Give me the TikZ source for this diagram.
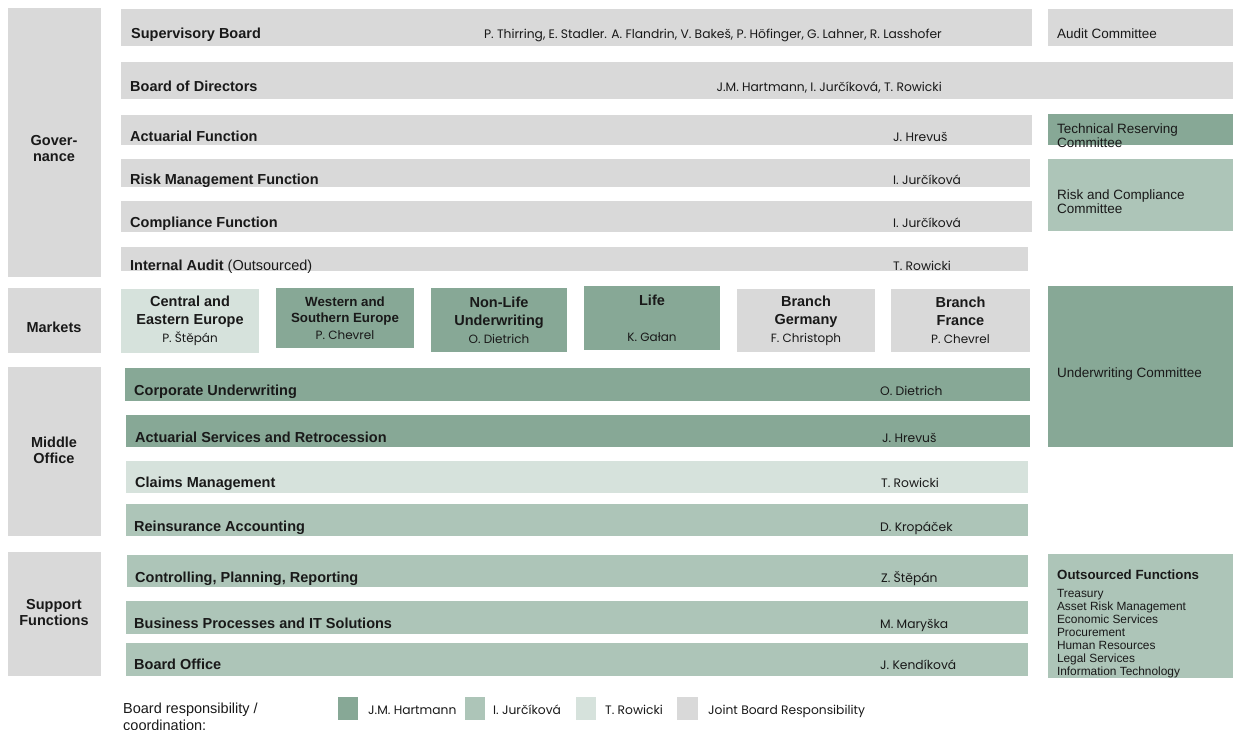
\documentclass[tikz,border=0pt]{standalone}
\usepackage{fontspec}
\setmainfont{Liberation Sans}
\newfontfamily\futura{Poppins}
\usetikzlibrary{positioning}
\definecolor{boardgrey}{RGB}{217, 217, 217}
\definecolor{hartgreen}{RGB}{135, 168, 150}
\definecolor{jurgreen}{RGB}{173, 197, 184}
\definecolor{rowgreen}{RGB}{214, 226, 220}
\definecolor{ink}{RGB}{25, 25, 25}

\tikzset{
  bar/.style={anchor=north west, inner sep=0pt, outer sep=0pt},
  lbl/.style={anchor=base west, inner sep=0pt, text=ink, font=\fontsize{14.5}{16}\selectfont\bfseries},
  side/.style={inner sep=0pt, align=center, text=ink, font=\fontsize{14.5}{16}\selectfont\bfseries},
  who/.style={anchor=base west, inner sep=0pt, text=ink, font=\futura\fontsize{12.3}{14}\selectfont},
  cmt/.style={anchor=base west, inner sep=0pt, align=left, text=ink, font=\fontsize{13.5}{14}\selectfont},
  mkt/.style={bar, align=center, text=ink, font=\fontsize{14.5}{18}\selectfont\bfseries}
}
\newcommand{\whofont}{\futura\fontsize{12}{18}\selectfont\mdseries}

\begin{document}
\begin{tikzpicture}[x=1pt, y=-1pt]
  \useasboundingbox (0,0) rectangle (1233,729);

  % Governance
  \node[bar, fill=boardgrey, minimum width=93pt, minimum height=269pt] (gov) at (8,8) {};
  \node[side] (govl) at (54,149) {Gover-\\nance};

  \node[bar, fill=boardgrey, minimum width=911pt, minimum height=37pt] (supb) at (121,9) {};
  \node[lbl] (supbl) at (131,38) {Supervisory Board};
  \node[who, anchor=base east] (supbw) at (942,38) {P. Thirring, E. Stadler. A. Flandrin, V. Bakeš, P. Höfinger, G. Lahner, R. Lasshofer};
  \node[bar, fill=boardgrey, minimum width=185pt, minimum height=37pt] (auditc) at (1048,9) {};
  \node[cmt] (auditcl) at (1057,38) {Audit Committee};

  \node[bar, fill=boardgrey, minimum width=1112pt, minimum height=37pt] (bod) at (121,62) {};
  \node[lbl] (bodl) at (130,91) {Board of Directors};
  \node[who, anchor=base east] (bodw) at (942,91) {J.M. Hartmann, I. Jurčíková, T. Rowicki};

  \node[bar, fill=boardgrey, minimum width=911pt, minimum height=30pt] (act) at (121,115) {};
  \node[lbl] (actl) at (130,141) {Actuarial Function};
  \node[who] (actw) at (893,141) {J. Hrevuš};
  \node[bar, fill=hartgreen, minimum width=185pt, minimum height=31pt] (techc) at (1048,114) {};
  \node[cmt] (techcl) at (1057,147) {Technical Reserving\\Committee};

  \node[bar, fill=boardgrey, minimum width=909pt, minimum height=28pt] (risk) at (121,159) {};
  \node[lbl] (riskl) at (130,184) {Risk Management Function};
  \node[who] (riskw) at (893,184) {I. Jurčíková};
  \node[bar, fill=jurgreen, minimum width=185pt, minimum height=72pt] (riskc) at (1048,159) {};
  \node[cmt] (riskcl) at (1057,213) {Risk and Compliance\\Committee};

  \node[bar, fill=boardgrey, minimum width=911pt, minimum height=31pt] (comp) at (121,201) {};
  \node[lbl] (compl) at (130,227) {Compliance Function};
  \node[who] (compw) at (893,227) {I. Jurčíková};

  \node[bar, fill=boardgrey, minimum width=907pt, minimum height=24pt] (audit) at (121,247) {};
  \node[lbl] (auditl) at (130,270) {Internal Audit \mdseries(Outsourced)};
  \node[who] (auditw) at (893,270) {T. Rowicki};

  % Markets
  \node[bar, fill=boardgrey, minimum width=93pt, minimum height=65pt] (mkts) at (8,288) {};
  \node[side] (mktsl) at (54,327) {Markets};

  \node[mkt, fill=rowgreen, minimum width=138pt, minimum height=64pt] (cee) at (121,289) {Central and\\Eastern Europe\\\whofont P. Štěpán};
  \node[mkt, fill=hartgreen, minimum width=138pt, minimum height=60pt, font=\fontsize{13.3}{16.5}\selectfont\bfseries] (wse) at (276,288) {Western and\\Southern Europe\\\whofont P. Chevrel};
  \node[mkt, fill=hartgreen, minimum width=136pt, minimum height=64pt] (nonlife) at (431,288) {Non-Life\\Underwriting\\\whofont O. Dietrich};
  \node[mkt, fill=hartgreen, minimum width=136pt, minimum height=64pt] (life) at (584,286) {Life\\[18pt]\whofont K. Gałan};
  \node[mkt, fill=boardgrey, minimum width=138pt, minimum height=63pt] (brde) at (737,289) {Branch\\Germany\\\whofont F. Christoph};
  \node[mkt, fill=boardgrey, minimum width=139pt, minimum height=63pt] (brfr) at (891,289) {Branch\\France\\\whofont P. Chevrel};

  \node[bar, fill=hartgreen, minimum width=185pt, minimum height=161pt] (uwc) at (1048,286) {};
  \node[cmt] (uwcl) at (1057,377) {Underwriting Committee};

  % Middle Office
  \node[bar, fill=boardgrey, minimum width=93pt, minimum height=169pt] (mid) at (8,367) {};
  \node[side] (midl) at (54,450) {Middle\\Office};

  \node[bar, fill=hartgreen, minimum width=905pt, minimum height=33pt] (corp) at (125,368) {};
  \node[lbl] (corpl) at (134,395) {Corporate Underwriting};
  \node[who] (corpw) at (880,395) {O. Dietrich};

  \node[bar, fill=hartgreen, minimum width=904pt, minimum height=32pt] (actserv) at (126,415) {};
  \node[lbl] (actservl) at (135,442) {Actuarial Services and Retrocession};
  \node[who] (actservw) at (882,442) {J. Hrevuš};

  \node[bar, fill=rowgreen, minimum width=902pt, minimum height=32pt] (claims) at (126,461) {};
  \node[lbl] (claimsl) at (135,487) {Claims Management};
  \node[who] (claimsw) at (881,487) {T. Rowicki};

  \node[bar, fill=jurgreen, minimum width=902pt, minimum height=32pt] (reacc) at (126,504) {};
  \node[lbl] (reaccl) at (134,531) {Reinsurance Accounting};
  \node[who] (reaccw) at (880,531) {D. Kropáček};

  % Support Functions
  \node[bar, fill=boardgrey, minimum width=93pt, minimum height=124pt] (supp) at (8,552) {};
  \node[side] (suppl) at (54,612) {Support\\Functions};

  \node[bar, fill=jurgreen, minimum width=901pt, minimum height=32pt] (ctrl) at (127,555) {};
  \node[lbl] (ctrll) at (135,582) {Controlling, Planning, Reporting};
  \node[who] (ctrlw) at (881,582) {Z. Štěpán};

  \node[bar, fill=jurgreen, minimum width=902pt, minimum height=33pt] (bpit) at (126,601) {};
  \node[lbl] (bpitl) at (134,628) {Business Processes and IT Solutions};
  \node[who] (bpitw) at (880,628) {M. Maryška};

  \node[bar, fill=jurgreen, minimum width=902pt, minimum height=33pt] (boff) at (126,643) {};
  \node[lbl] (boffl) at (134,669) {Board Office};
  \node[who] (boffw) at (880,669) {J. Kendíková};

  \node[bar, fill=jurgreen, minimum width=185pt, minimum height=124pt] (outs) at (1048,554) {};
  \node[lbl, font=\fontsize{13.3}{15}\selectfont\bfseries] (outsl) at (1057,579) {Outsourced Functions};
  \node[bar, align=left, text=ink, font=\fontsize{11.9}{13}\selectfont] (outsw) at (1057,589.5) {Treasury\\Asset Risk Management\\Economic Services\\Procurement\\Human Resources\\Legal Services\\Information Technology};

  % Legend
  \node[cmt, font=\fontsize{14.5}{17}\selectfont] (legl) at (123,730) {Board responsibility /\\coordination:};
  \node[bar, fill=hartgreen, minimum width=20pt, minimum height=23pt] (keyh) at (338,697) {};
  \node[who] (keyhl) at (368,714) {J.M. Hartmann};
  \node[bar, fill=jurgreen, minimum width=20pt, minimum height=23pt] (keyj) at (465,697) {};
  \node[who] (keyjl) at (493,714) {I. Jurčíková};
  \node[bar, fill=rowgreen, minimum width=20pt, minimum height=23pt] (keyr) at (576,697) {};
  \node[who] (keyrl) at (605,714) {T. Rowicki};
  \node[bar, fill=boardgrey, minimum width=21pt, minimum height=23pt] (keyg) at (677,697) {};
  \node[who] (keygl) at (708,714) {Joint Board Responsibility};
\end{tikzpicture}
\end{document}
